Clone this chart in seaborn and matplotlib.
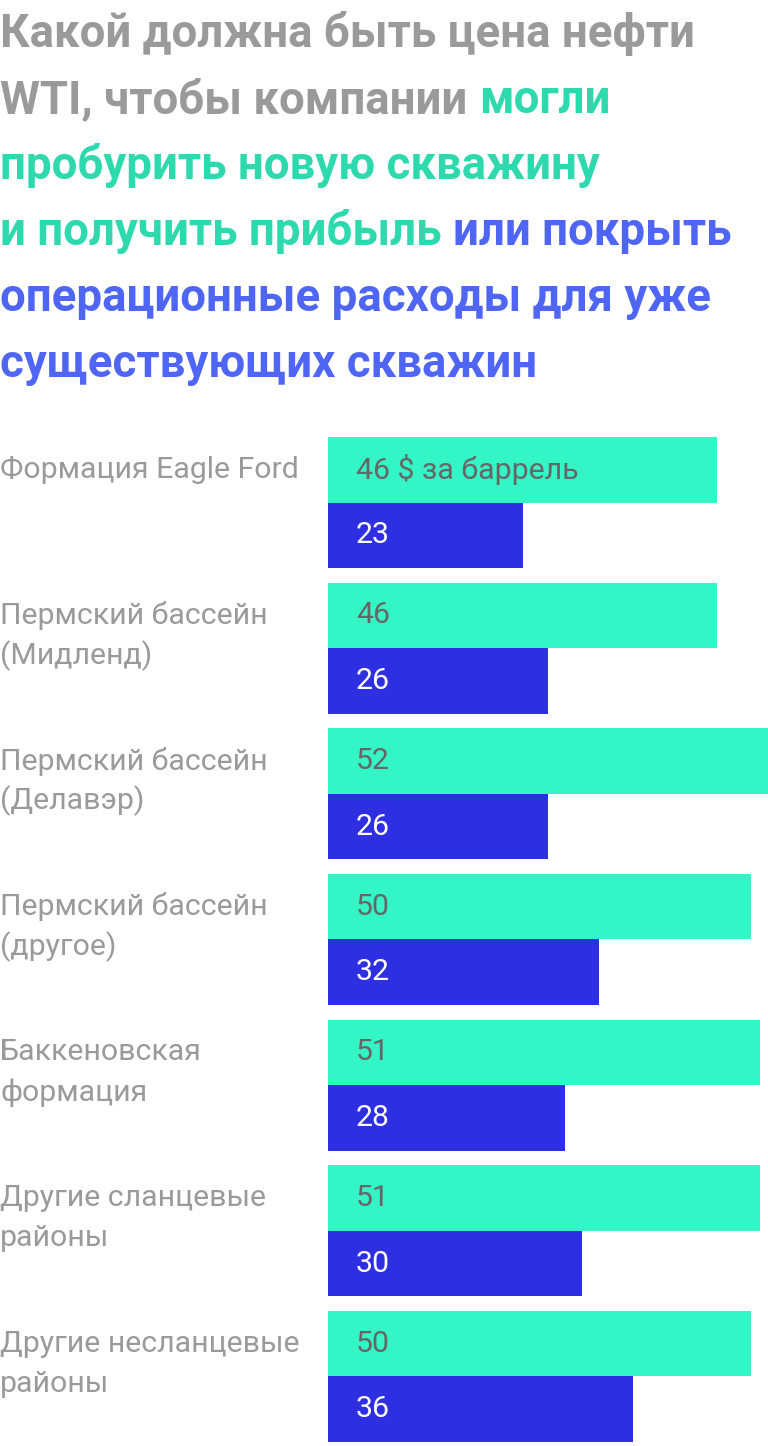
import matplotlib
matplotlib.use("Agg")
import matplotlib.pyplot as plt
import matplotlib.transforms as mtransforms
import seaborn as sns
import pandas as pd

categories = [
    "Формация Eagle Ford",
    "Пермский бассейн\n(Мидленд)",
    "Пермский бассейн\n(Делавэр)",
    "Пермский бассейн\n(другое)",
    "Баккеновская\nформация",
    "Другие сланцевые\nрайоны",
    "Другие несланцевые\nрайоны",
]
new_well = [46, 46, 52, 50, 51, 51, 50]
existing_well = [23, 26, 26, 32, 28, 30, 36]
series_names = ["Новая скважина", "Существующие скважины"]
first_label_suffix = " $ за баррель"

title_lines = [
    [("Какой должна быть цена нефти", "gray")],
    [("WTI, чтобы компании ", "gray"), ("могли", "green")],
    [("пробурить новую скважину", "green")],
    [("и получить прибыль ", "green"), ("или покрыть", "blue")],
    [("операционные расходы для уже", "blue")],
    [("существующих скважин", "blue")],
]

GREEN = "#33F5C5"
BLUE = "#2F2FE2"
TITLE_COLORS = {"gray": "#9A9A9A", "green": "#2ED9AE", "blue": "#4F66F5"}

sns.set_theme(style="white")
plt.rcParams["font.family"] = ["Roboto", "DejaVu Sans"]

df = pd.DataFrame({
    "cat": categories * 2,
    "val": new_well + existing_well,
    "series": [series_names[0]] * len(categories) + [series_names[1]] * len(categories),
})

fig = plt.figure(figsize=(7.68, 14.46), dpi=100)
W, H = 768, 1446
ax = fig.add_axes([328 / W, 4 / H, 1 - 328 / W, (1442 - 437) / H])

sns.barplot(data=df, y="cat", x="val", hue="series", orient="h",
            palette=[GREEN, BLUE], width=0.9, ax=ax, legend=False,
            saturation=1, linewidth=0)
ax.set_xlim(0, 52)
ax.set_ylim(len(categories) - 1 + 0.45, -0.45)
ax.axis("off")

px = 72 / 100  # points per pixel
FS = 21.8

# value labels
for i in range(len(categories)):
    g_txt = f"{new_well[i]}" + (first_label_suffix if i == 0 else "")
    ax.annotate(g_txt, xy=(0, i - 0.225), xytext=(28 * px, 0), textcoords="offset points",
                va="center", ha="left", fontsize=FS, color="#666666")
    ax.annotate(f"{existing_well[i]}", xy=(0, i + 0.225), xytext=(28 * px, 0),
                textcoords="offset points", va="center", ha="left", fontsize=FS,
                color="white")

# category labels
blend = mtransforms.blended_transform_factory(fig.transFigure, ax.transData)
for i, lab in enumerate(categories):
    for j, line in enumerate(lab.split("\n")):
        ax.annotate(line, xy=(0, i - 0.225), xycoords=blend, xytext=(0, -j * 40 * px),
                    textcoords="offset points", va="center", ha="left", fontsize=FS,
                    color="#9A9A9A", annotation_clip=False)

# multicolour title
fig.canvas.draw()
renderer = fig.canvas.get_renderer()
y0 = 47
for li, parts in enumerate(title_lines):
    x = 0
    ybase = y0 + li * 66
    for text, c in parts:
        t = fig.text(x / W, 1 - ybase / H, text, fontsize=32.9, fontweight="bold",
                     color=TITLE_COLORS[c], ha="left", va="baseline")
        bb = t.get_window_extent(renderer=renderer)
        x += bb.width

fig.savefig("out.png", dpi=100)
